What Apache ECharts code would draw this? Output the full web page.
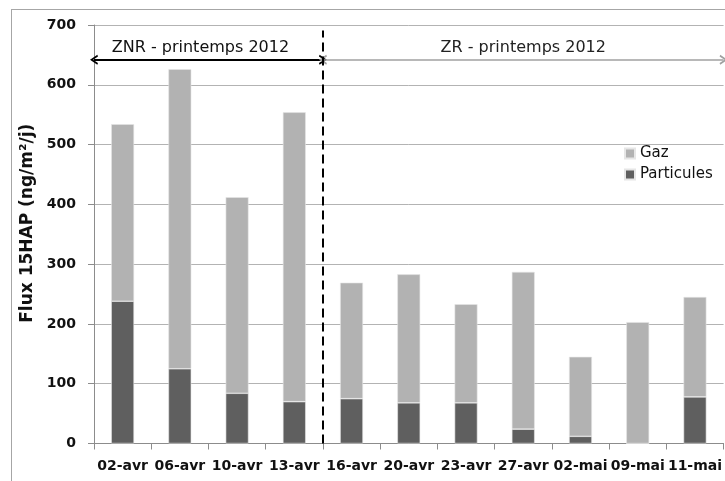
<!DOCTYPE html>
<html>
<head>
<meta charset="utf-8">
<script src="https://cdn.jsdelivr.net/npm/echarts@6/dist/echarts.min.js"></script>
<style>
html,body{margin:0;padding:0;background:#fff;}
#c{width:725px;height:481px;}
</style>
</head>
<body>
<div id="c"></div>
<script>
// Data
var categories = ['02-avr','06-avr','10-avr','13-avr','16-avr','20-avr','23-avr','27-avr','02-mai','09-mai','11-mai'];
var particules = [238, 125, 84, 70, 75, 68, 68, 24, 12, 0, 78];
var gaz = [296, 501, 328, 484, 194, 215, 165, 263, 133, 203, 167];
var yTicks = [0, 100, 200, 300, 400, 500, 600, 700];
var periodLabels = ['ZNR - printemps 2012', 'ZR - printemps 2012'];
var periodBounds = [0, 4, 11];
var periodLevel = 642;
var separatorTop = 691;

var FONT = 'DejaVu Sans';
var CHEVRON = 'path://M0,10 L5,0 L10,10 L8.2,10.9 L5,4.2 L1.8,10.9 Z';
var chart = echarts.init(document.getElementById('c'), null, {renderer: 'canvas'});

var option = {
  backgroundColor: '#ffffff',
  animation: false,
  textStyle: {fontFamily: FONT},
  grid: {left: 94, right: 1, top: 25, bottom: 37.5, containLabel: false},
  legend: {
    orient: 'vertical',
    left: 619, top: 141,
    itemWidth: 10, itemHeight: 10, itemGap: 6,
    icon: 'rect',
    data: ['Gaz', 'Particules'],
    textStyle: {fontFamily: FONT, fontSize: 15, color: '#111'}
  },
  xAxis: [{
    type: 'category',
    data: categories,
    axisLine: {lineStyle: {color: '#8c8c8c', width: 1}},
    axisTick: {show: true, length: 6, lineStyle: {color: '#8c8c8c'}},
    axisLabel: {fontFamily: FONT, fontWeight: 'bold', fontSize: 14, color: '#111', margin: 16, interval: 0}
  }, {
    type: 'value', min: 0, max: 11, show: false
  }],
  yAxis: {
    type: 'value', min: 0, max: 700, interval: 100,
    name: 'Flux 15HAP (ng/m²/j)',
    nameLocation: 'middle', nameGap: 55, nameRotate: 90,
    nameTextStyle: {fontFamily: FONT, fontWeight: 'bold', fontSize: 17, color: '#111', padding: [0, 0, 0, 22]},
    axisLine: {show: true, lineStyle: {color: '#8c8c8c'}},
    axisTick: {show: true, length: 6, lineStyle: {color: '#8c8c8c'}},
    axisLabel: {fontFamily: FONT, fontWeight: 'bold', fontSize: 14, color: '#111', margin: 18,
      formatter: function (v) { return yTicks.indexOf(v) >= 0 ? String(v) : ''; }},
    splitLine: {show: true, lineStyle: {color: '#b3b3b3', width: 1}}
  },
  series: [{
    name: 'Particules', type: 'bar', stack: 'tot', data: particules,
    barWidth: '40%',
    itemStyle: {color: '#5f5f5f', borderColor: '#e6e6e6', borderWidth: 0.6}
  }, {
    name: 'Gaz', type: 'bar', stack: 'tot', data: gaz,
    barWidth: '40%',
    itemStyle: {color: '#b2b2b2', borderColor: '#e6e6e6', borderWidth: 0.6}
  }, {
    name: 'annot', type: 'line', xAxisIndex: 1, data: [], silent: true,
    markLine: {
      silent: true, animation: false, symbolSize: [10, 8],
      data: [
        [{coord: [periodBounds[0], periodLevel], symbol: CHEVRON,
          lineStyle: {color: '#000', width: 2, type: 'solid'},
          itemStyle: {color: '#000'},
          label: {show: true, position: 'middle', formatter: periodLabels[0], fontFamily: FONT, fontSize: 16, color: '#111', distance: 4, padding: [0, 16, 0, 0]}},
         {coord: [periodBounds[1], periodLevel], symbol: CHEVRON}],
        [{coord: [periodBounds[1], periodLevel], symbol: CHEVRON,
          lineStyle: {color: '#a0a0a0', width: 1.6, type: 'solid'},
          itemStyle: {color: '#a0a0a0'},
          label: {show: true, position: 'middle', formatter: periodLabels[1], fontFamily: FONT, fontSize: 16, color: '#222', distance: 4}},
         {coord: [periodBounds[2], periodLevel], symbol: CHEVRON}],
        [{coord: [periodBounds[1], 0], symbol: 'none',
          lineStyle: {color: '#000', width: 2, type: [9, 5]}, label: {show: false}},
         {coord: [periodBounds[1], separatorTop], symbol: 'none'}]
      ]
    }
  }],
  graphic: [
    {type: 'line', shape: {x1: 11, y1: 9.5, x2: 725, y2: 9.5}, style: {stroke: '#a6a6a6', lineWidth: 1}, silent: true},
    {type: 'line', shape: {x1: 11.5, y1: 9, x2: 11.5, y2: 481}, style: {stroke: '#a6a6a6', lineWidth: 1}, silent: true}
  ]
};
chart.setOption(option);
</script>
</body>
</html>
